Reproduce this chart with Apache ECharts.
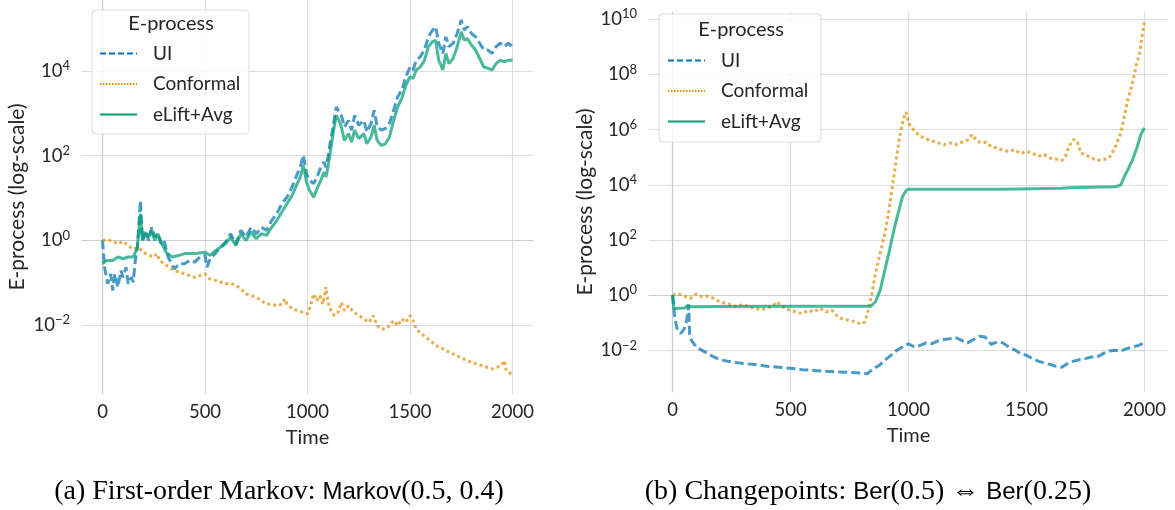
<!DOCTYPE html>
<html>
<head>
<meta charset="utf-8">
<script src="https://cdn.jsdelivr.net/npm/echarts@6/dist/echarts.min.js"></script>
<style>html,body{margin:0;padding:0;background:#fff;}#c{width:1175px;height:510px;}</style>
</head>
<body>
<div id="c"></div>
<script>
// ---- Data (values are log10 of the E-process) ----
const xTicks = [0, 500, 1000, 1500, 2000];
const leftYTicks = [-2, 0, 2, 4];
const rightYTicks = [-2, 0, 2, 4, 6, 8, 10];
const seriesNames = ['UI', 'Conformal', 'eLift+Avg'];

// Panel (a): First-order Markov
const aUiT = [0,10,25,40,50,60,75,90,100,115,125,140,150,160,170,185,195,210,225,240,255,270,285,300,320,350,375,400,425,450,475,500,510,525,550,575,600,625,650,675,700,725,750,775,800,825,850,875,900,925,950,965,980,995,1010,1030,1050,1065,1080,1090,1100,1110,1125,1140,1150,1165,1180,1200,1215,1230,1250,1275,1290,1310,1325,1340,1360,1380,1400,1420,1440,1460,1480,1500,1515,1530,1550,1570,1590,1610,1625,1640,1660,1675,1690,1710,1730,1750,1765,1780,1800,1820,1840,1860,1880,1900,1920,1940,1960,1980,2000];
const aUiLog = [0,-0.63,-1.02,-0.79,-1.18,-0.79,-1.10,-0.71,-0.87,-0.63,-1.02,-0.87,-0.98,-0.47,-0.16,0.94,0,0.24,0,0.31,0.08,0.16,-0.08,0,-0.39,-0.67,-0.55,-0.55,-0.47,-0.51,-0.39,-0.35,-0.63,-0.43,-0.31,-0.16,-0.04,0.16,-0.08,0.24,0.08,0.31,0.16,0.31,0.24,0.47,0.63,0.87,1.02,1.26,1.57,1.73,2.01,1.57,1.42,1.34,1.54,1.73,1.85,1.73,1.97,2.28,2.68,3.15,3.07,2.95,2.68,2.83,2.60,2.95,2.72,2.83,2.56,2.76,3.07,2.68,2.60,2.64,2.76,3.07,3.39,3.54,3.86,4.09,4.02,4.24,4.33,4.49,4.80,4.96,5.04,4.65,4.41,4.80,4.57,4.65,4.88,5.20,4.96,5.04,4.88,4.80,4.65,4.49,4.49,4.41,4.57,4.65,4.57,4.65,4.57];

const aConfT = [0,25,50,75,100,125,150,175,200,225,250,265,280,300,325,350,375,400,425,450,475,500,525,550,575,600,625,650,675,700,725,750,775,800,825,850,875,890,900,925,950,975,1000,1015,1030,1045,1060,1075,1090,1100,1115,1130,1150,1165,1180,1200,1225,1250,1275,1300,1320,1340,1360,1380,1400,1420,1440,1460,1480,1500,1515,1530,1550,1575,1600,1625,1650,1675,1700,1725,1750,1775,1800,1825,1850,1875,1900,1925,1950,1960,1970,1985,2000];
const aConfLog = [0,0.02,-0.02,-0.08,-0.02,-0.12,-0.20,-0.16,-0.28,-0.35,-0.39,-0.31,-0.47,-0.55,-0.63,-0.71,-0.75,-0.79,-0.83,-0.87,-0.83,-0.79,-0.91,-0.94,-0.98,-1.02,-1.01,-1.06,-1.14,-1.26,-1.30,-1.34,-1.42,-1.50,-1.50,-1.54,-1.50,-1.38,-1.50,-1.61,-1.65,-1.69,-1.73,-1.54,-1.26,-1.42,-1.30,-1.50,-1.10,-1.46,-1.65,-1.77,-1.69,-1.46,-1.65,-1.54,-1.69,-1.77,-1.85,-1.93,-1.77,-2.01,-2.09,-2.09,-2.01,-1.89,-2.01,-1.85,-1.93,-1.77,-1.89,-2.09,-2.17,-2.28,-2.36,-2.48,-2.52,-2.60,-2.64,-2.72,-2.76,-2.83,-2.87,-2.91,-2.95,-2.99,-3.03,-2.99,-2.91,-2.83,-3.07,-3.11,-3.19];

const aElT = [0,20,50,75,100,125,150,170,185,195,210,225,240,255,270,290,310,340,375,400,450,500,525,550,575,600,625,650,675,700,725,750,775,800,825,850,875,900,925,950,965,980,995,1010,1030,1050,1065,1080,1090,1100,1110,1125,1140,1150,1165,1180,1200,1215,1230,1250,1275,1290,1310,1325,1340,1360,1380,1400,1420,1440,1460,1480,1500,1515,1530,1550,1570,1590,1610,1625,1640,1660,1675,1690,1710,1730,1750,1765,1780,1800,1820,1840,1860,1880,1900,1920,1940,1960,1980,2000];
const aElLog = [-0.55,-0.47,-0.47,-0.39,-0.43,-0.39,-0.39,-0.16,0.63,0,0.16,0.08,0.24,0,0.16,-0.08,-0.28,-0.39,-0.35,-0.31,-0.31,-0.28,-0.35,-0.24,-0.16,-0.08,0.08,-0.12,0.16,0,0.20,0.04,0.16,0.12,0.31,0.47,0.67,0.87,1.06,1.34,1.50,1.77,1.38,1.18,1.02,1.26,1.42,1.61,1.50,1.73,2.05,2.52,2.95,2.87,2.68,2.36,2.52,2.32,2.60,2.40,2.52,2.28,2.44,2.72,2.36,2.24,2.28,2.44,2.83,3.15,3.35,3.66,3.86,3.82,4.02,4.09,4.24,4.57,4.69,4.72,4.25,4.02,4.41,4.17,4.29,4.57,4.92,4.72,4.76,4.61,4.49,4.29,4.09,4.06,4.02,4.17,4.25,4.21,4.25,4.25];

// Panel (b): Changepoints
const bUiT = [0,8,20,35,50,60,68,72,80,100,125,150,175,200,250,300,350,400,450,500,550,600,650,700,750,800,825,850,875,900,925,950,975,1000,1025,1050,1075,1100,1125,1150,1175,1200,1225,1250,1275,1300,1325,1350,1375,1400,1425,1450,1475,1500,1525,1550,1575,1600,1625,1650,1675,1700,1725,1750,1775,1800,1825,1850,1875,1900,1925,1950,1975,2000];
const bUiLog = [0,-0.73,-1.27,-1.39,-1.21,-0.91,-0.36,-1.39,-1.64,-1.88,-2.00,-2.12,-2.24,-2.34,-2.42,-2.48,-2.51,-2.58,-2.61,-2.65,-2.70,-2.73,-2.76,-2.78,-2.80,-2.82,-2.85,-2.67,-2.55,-2.36,-2.18,-2.00,-1.88,-1.76,-1.88,-1.82,-1.73,-1.76,-1.66,-1.61,-1.58,-1.54,-1.64,-1.73,-1.61,-1.49,-1.52,-1.78,-1.70,-1.73,-1.88,-1.98,-2.12,-2.18,-2.30,-2.39,-2.46,-2.51,-2.58,-2.61,-2.48,-2.39,-2.34,-2.30,-2.24,-2.24,-2.12,-2.02,-2.00,-2.02,-1.94,-1.88,-1.82,-1.73];

const bConfT = [0,25,50,75,100,125,150,175,200,225,250,275,300,325,350,375,400,425,440,460,475,500,525,550,575,600,625,650,675,700,725,750,775,800,815,830,845,860,880,900,915,930,950,965,980,990,1000,1025,1050,1075,1100,1125,1150,1175,1200,1225,1250,1270,1290,1310,1330,1350,1375,1400,1425,1450,1475,1500,1525,1550,1575,1600,1625,1650,1665,1680,1700,1715,1730,1750,1775,1800,1825,1850,1875,1900,1915,1930,1950,1965,1980,1990,2000];
const bConfLog = [0,0.04,-0.04,-0.12,0.04,-0.06,-0.04,-0.12,-0.24,-0.30,-0.36,-0.42,-0.33,-0.42,-0.48,-0.52,-0.48,-0.40,-0.24,-0.36,-0.48,-0.55,-0.61,-0.67,-0.55,-0.61,-0.48,-0.61,-0.55,-0.79,-0.88,-0.91,-0.97,-1.05,-0.97,-0.55,0.06,0.79,1.52,2.24,2.97,3.82,5.03,5.88,6.42,6.63,6.24,5.94,5.76,5.66,5.58,5.52,5.45,5.52,5.45,5.54,5.61,5.82,5.58,5.52,5.54,5.39,5.33,5.25,5.21,5.27,5.13,5.21,5.15,5.03,5.09,4.97,4.93,4.88,5.03,5.39,5.64,5.58,5.15,5.09,4.97,4.88,4.91,4.97,5.33,5.88,6.48,7.09,7.70,8.30,8.79,9.39,9.88];

const bElT = [0,5,50,65,75,100,200,400,600,840,860,880,900,920,935,945,960,975,990,1000,1200,1400,1650,1700,1880,1900,1915,1930,1950,1970,1985,2000];
const bElLog = [0,-0.48,-0.47,-0.36,-0.42,-0.42,-0.41,-0.40,-0.40,-0.40,-0.24,0.18,0.91,1.64,2.24,2.61,3.09,3.58,3.79,3.84,3.84,3.84,3.87,3.90,3.93,4.00,4.30,4.55,4.91,5.39,5.82,6.06];

// ---- Styling ----
const colors = {UI: '#0173b2', Conformal: '#de8f05', 'eLift+Avg': '#029e73'};
const dashes = {UI: [9, 4], Conformal: [3, 3], 'eLift+Avg': 'solid'};
const legendDashes = {UI: [6, 3], Conformal: [1.5, 1.5], 'eLift+Avg': 'solid'};
const sans = 'Lato, "Noto Sans", sans-serif';
const serif = '"Liberation Serif", "DejaVu Serif", serif';
const txt = '#262626';

function zip(t, v) { return t.map((x, i) => [x, v[i]]); }
function supLabel(v) {
  const s = (v < 0 ? '\u2212' + Math.abs(v) : String(v));
  return '{b|10}{s|' + s + '}';
}
function mkSeries(name, t, v, idx) {
  return {
    type: 'line', name: name, xAxisIndex: idx, yAxisIndex: idx,
    data: zip(t, v), showSymbol: false, symbol: 'none', smooth: false,
    animation: false, silent: true, z: 2,
    lineStyle: {color: colors[name], width: 3, opacity: 0.72, type: dashes[name]},
    itemStyle: {color: colors[name]}
  };
}
function xAxis(idx) {
  return {
    type: 'value', gridIndex: idx, min: -100, max: 2100,
    name: 'Time', nameLocation: 'middle', nameGap: 34,
    nameTextStyle: {fontFamily: sans, fontSize: 20, color: txt},
    axisLine: {show: true, lineStyle: {color: '#cccccc', width: 1.2}},
    axisTick: {show: false, customValues: xTicks},
    axisLabel: {customValues: xTicks, fontFamily: sans, fontSize: 18.5, color: txt, margin: 9,
                formatter: v => String(v)},
    splitLine: {show: true, lineStyle: {color: '#dddddd', width: 1.1}}
  };
}
function yAxis(idx, min, max, ticks, gap) {
  return {
    type: 'value', gridIndex: idx, min: min, max: max,
    name: 'E-process (log-scale)', nameLocation: 'middle', nameGap: gap, nameRotate: 90,
    nameTextStyle: {fontFamily: sans, fontSize: 21, color: txt},
    axisLine: {show: true, lineStyle: {color: '#cccccc', width: 1.2}},
    axisTick: {show: false, customValues: ticks},
    axisLabel: {
      customValues: ticks, margin: 12, formatter: supLabel,
      rich: {
        b: {fontFamily: sans, fontSize: 18.5, color: txt},
        s: {fontFamily: sans, fontSize: 13, color: txt, padding: [0, 0, 10, 0]}
      }
    },
    splitLine: {show: true, lineStyle: {color: '#dddddd', width: 1.1}}
  };
}
function legend(left, top) {
  return {
    orient: 'vertical', left: left, top: top, padding: 0, z: 10,
    itemWidth: 37, itemHeight: 14, itemGap: 9.5,
    itemStyle: {opacity: 0, borderWidth: 0},
    data: seriesNames.map(n => ({name: n, itemStyle: {opacity: 0},
      lineStyle: {width: 2, opacity: 1, type: legendDashes[n], color: colors[n]}})),
    textStyle: {fontFamily: sans, fontSize: 19, color: txt, lineHeight: 21, padding: [0, 0, 0, 11]},
    selectedMode: false
  };
}
const capStyle = {fontFamily: serif, fontSize: 28, fontWeight: 'normal', color: '#000',
  rich: {sf: {fontFamily: '"Liberation Sans", sans-serif', fontSize: 24, color: '#000'}}};

const option = {
  backgroundColor: '#ffffff',
  animation: false,
  grid: [
    {left: 82, top: 0, width: 451, height: 394},
    {left: 649, top: 12, width: 519, height: 380}
  ],
  xAxis: [xAxis(0), xAxis(1)],
  yAxis: [yAxis(0, -3.62, 5.67, leftYTicks, 54), yAxis(1, -3.51, 10.26, rightYTicks, 53)],
  legend: [legend(99, 43), legend(667, 50)],
  series: [
    mkSeries('UI', aUiT, aUiLog, 0),
    mkSeries('Conformal', aConfT, aConfLog, 0),
    mkSeries('eLift+Avg', aElT, aElLog, 0),
    mkSeries('UI', bUiT, bUiLog, 1),
    mkSeries('Conformal', bConfT, bConfLog, 1),
    mkSeries('eLift+Avg', bElT, bElLog, 1)
  ],
  title: [
    {text: '(a) First-order Markov: {sf|Markov}(0.5, 0.4)', left: 274, top: 473, textAlign: 'center', textStyle: capStyle},
    {text: '(b) Changepoints: {sf|Ber}(0.5) \u21D4 {sf|Ber}(0.25)', left: 863, top: 473, textAlign: 'center', textStyle: capStyle}
  ],
  graphic: [
    {type: 'rect', z: 5, silent: true, x: 92, y: 10,
     shape: {width: 157, height: 124, r: 4},
     style: {fill: 'rgba(255,255,255,0.8)', stroke: '#dcdcdc', lineWidth: 1}},
    {type: 'text', z: 6, silent: true, x: 171, y: 14,
     style: {text: 'E-process', font: '20px Lato, "Noto Sans", sans-serif', fill: txt, align: 'center'}},
    {type: 'rect', z: 5, silent: true, x: 659, y: 14,
     shape: {width: 162, height: 128, r: 4},
     style: {fill: 'rgba(255,255,255,0.8)', stroke: '#dcdcdc', lineWidth: 1}},
    {type: 'text', z: 6, silent: true, x: 741, y: 20,
     style: {text: 'E-process', font: '20px Lato, "Noto Sans", sans-serif', fill: txt, align: 'center'}}
  ]
};

const chart = echarts.init(document.getElementById('c'), null, {renderer: 'canvas'});
chart.setOption(option);
</script>
</body>
</html>
